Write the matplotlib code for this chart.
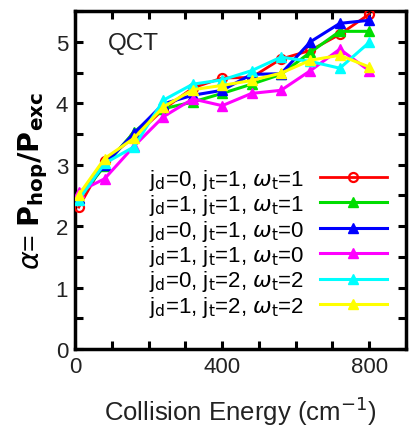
import numpy as np
import matplotlib.pyplot as plt

plt.rcParams['font.family'] = ['Liberation Sans', 'DejaVu Sans']
plt.rcParams['mathtext.fontset'] = 'dejavusans'

# --- data ---
energy = [10, 80, 160, 240, 320, 400, 480, 560, 640, 720, 800]

red = [2.31, 3.06, 3.45, 3.90, 4.25, 4.41, 4.42, 4.72, 4.86, 5.12, 5.45]
green = [2.45, 2.98, 3.53, 3.91, 4.02, 4.16, 4.31, 4.47, 4.83, 5.17, 5.17]
blue = [2.46, 3.00, 3.51, 3.99, 4.13, 4.21, 4.47, 4.48, 5.00, 5.30, 5.35]
magenta = [2.56, 2.77, 3.30, 3.78, 4.07, 3.96, 4.16, 4.21, 4.53, 4.88, 4.53]
cyan = [2.43, 3.02, 3.29, 4.05, 4.31, 4.38, 4.53, 4.75, 4.68, 4.57, 4.99]
yellow = [2.51, 3.10, 3.43, 3.94, 4.22, 4.29, 4.37, 4.49, 4.70, 4.78, 4.59]

labels = [
    r"j$_\mathrm{d}$=0, j$_\mathrm{t}$=1, $\omega_\mathrm{t}$=1",
    r"j$_\mathrm{d}$=1, j$_\mathrm{t}$=1, $\omega_\mathrm{t}$=1",
    r"j$_\mathrm{d}$=0, j$_\mathrm{t}$=1, $\omega_\mathrm{t}$=0",
    r"j$_\mathrm{d}$=1, j$_\mathrm{t}$=1, $\omega_\mathrm{t}$=0",
    r"j$_\mathrm{d}$=0, j$_\mathrm{t}$=2, $\omega_\mathrm{t}$=2",
    r"j$_\mathrm{d}$=1, j$_\mathrm{t}$=2, $\omega_\mathrm{t}$=2",
]
series = [red, green, blue, magenta, cyan, yellow]
colors = ["#ff0000", "#00dd00", "#0000ff", "#ff00ff", "#00ffff", "#ffff00"]

fig = plt.figure(figsize=(4.13, 4.31), dpi=100)
ax = fig.add_axes([0.182, 0.188, 0.801, 0.784])

for i, (vals, c, lab) in enumerate(zip(series, colors, labels)):
    if i == 0:
        ax.plot(energy, vals, color=c, lw=2, marker="o", ms=6.5,
                mfc="none", mec=c, mew=1.6, label=lab, zorder=3)
    else:
        ax.plot(energy, vals, color=c, lw=2.2, marker="^", ms=6.5,
                mec=c, label=lab, zorder=3)

ax.set_xlim(0, 900)
ax.set_ylim(0, 5.5)
ax.set_xticks(np.arange(0, 901, 100))
ax.set_xticklabels(["0", "", "", "", "400", "", "", "", "800", ""])
ax.set_yticks(np.arange(0, 5.51, 0.5))
ax.set_yticklabels(["0", "", "1", "", "2", "", "3", "", "4", "", "5", ""])
ax.tick_params(direction="in", length=6, width=2.2, top=True, right=True,
               labelsize=16, pad=5, labelcolor="#222222")
for s in ax.spines.values():
    s.set_linewidth(2.5)

ax.text(90, 4.89, "QCT", fontsize=17.5, color="#222222", va="baseline")

ax.set_xlabel(r"Collision Energy (cm$^{-1}$)", fontsize=18.5, labelpad=12,
              color="#222222")
ax.set_ylabel(r"$\alpha$= $\mathbf{P_{hop}/P_{exc}}$", fontsize=20.5, labelpad=4)

ax.legend(loc="lower right", bbox_to_anchor=(0.975, 0.056), frameon=False,
          markerfirst=False, fontsize=16, handlelength=3.0,
          labelspacing=0.02, handletextpad=0.7, borderpad=0)

fig.savefig("out.png", dpi=100)
